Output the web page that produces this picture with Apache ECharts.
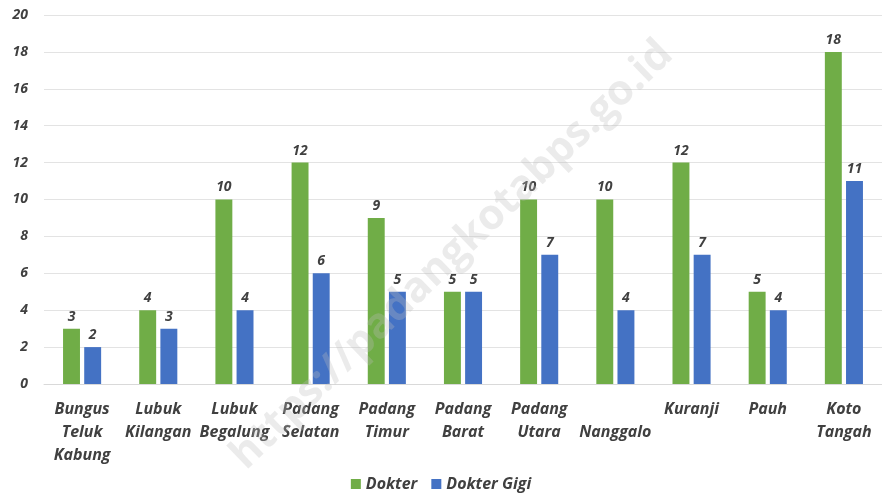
<!DOCTYPE html>
<html>
<head>
<meta charset="utf-8">
<script src="https://cdn.jsdelivr.net/npm/echarts@6/dist/echarts.min.js"></script>
<style>
    html, body { margin: 0; padding: 0; background: #fff; }
    #chart { width: 882px; height: 497px; }
</style>
</head>
<body>
<div id="chart"></div>
<script>
// kecamatan
const categories = ['Bungus\nTeluk\nKabung', 'Lubuk\nKilangan', 'Lubuk\nBegalung', 'Padang\nSelatan', 'Padang\nTimur',
    'Padang\nBarat', 'Padang\nUtara', '\nNanggalo', 'Kuranji', 'Pauh', 'Koto\nTangah'];
const dokter = [3, 4, 10, 12, 9, 5, 10, 10, 12, 5, 18];
const dokterGigi = [2, 3, 4, 6, 5, 5, 7, 4, 7, 4, 11];

const textColor = '#404040';
const font = 'Open Sans';

let chart = echarts.init(document.getElementById('chart'));

chart.setOption({
    animation: false,
    textStyle: { fontFamily: font },
    legend: {
        bottom: 0,
        left: 'center',
        itemWidth: 10,
        itemHeight: 10,
        itemGap: 14,
        icon: 'rect',
        textStyle: { color: textColor, fontSize: 16, fontStyle: 'italic', fontWeight: 'bold', fontFamily: font },
        data: ['Dokter', 'Dokter Gigi']
    },
    grid: {
        left: 44,
        right: 0,
        top: 15,
        bottom: 113
    },
    xAxis: {
        type: 'category',
        data: categories,
        axisLine: { lineStyle: { color: '#d9d9d9' } },
        axisTick: { show: false },
        axisLabel: {
            interval: 0,
            margin: 14,
            color: textColor,
            fontSize: 16,
            lineHeight: 23,
            fontStyle: 'italic',
            fontWeight: 'bold',
            fontFamily: font
        }
    },
    yAxis: {
        type: 'value',
        min: 0,
        max: 20,
        interval: 2,
        axisLine: { show: false },
        axisTick: { show: false },
        splitLine: { lineStyle: { color: '#e3e3e3' } },
        axisLabel: {
            margin: 16,
            color: textColor,
            fontSize: 14,
            fontStyle: 'italic',
            fontWeight: 'bold',
            fontFamily: font
        }
    },
    series: [{
            name: 'Dokter',
            type: 'bar',
            data: dokter,
            barGap: '25%',
            barCategoryGap: '50%',
            itemStyle: { color: '#70ad47' },
            label: {
                show: true,
                position: 'top',
                distance: 5,
                color: textColor,
                fontSize: 14,
                fontStyle: 'italic',
                fontWeight: 'bold',
                fontFamily: font
            }
        },
        {
            name: 'Dokter Gigi',
            type: 'bar',
            data: dokterGigi,
            itemStyle: { color: '#4472c4' },
            label: {
                show: true,
                position: 'top',
                distance: 5,
                color: textColor,
                fontSize: 14,
                fontStyle: 'italic',
                fontWeight: 'bold',
                fontFamily: font
            }
        }
    ],
    graphic: [{
        type: 'text',
        x: 452,
        y: 255,
        rotation: Math.PI * 44 / 180,
        z: 100,
        silent: true,
        style: {
            text: 'https://padangkotabps.go.id',
            fill: 'rgba(190,190,190,0.3)',
            font: 'bold 42px Open Sans',
            align: 'center',
            verticalAlign: 'middle'
        }
    }]
});
</script>
</body>
</html>
